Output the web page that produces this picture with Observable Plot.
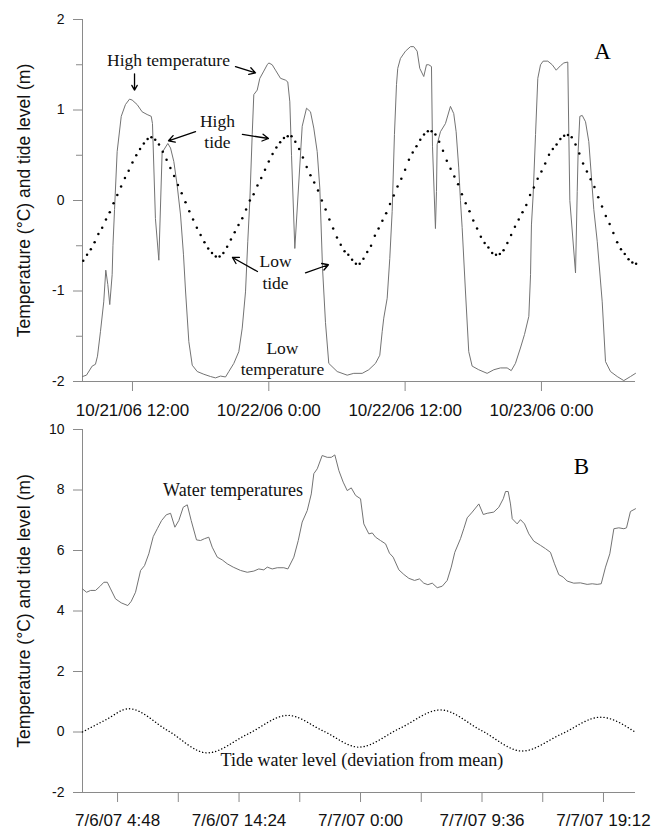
<!DOCTYPE html>
<html>
<head>
<meta charset="utf-8">
<script src="https://cdn.jsdelivr.net/npm/d3@7"></script>
<script src="https://cdn.jsdelivr.net/npm/@observablehq/plot@0.6"></script>
<style>
  html, body { margin: 0; padding: 0; background: #fff; }
  #chart svg { display: block; }
</style>
</head>
<body>
<div id="chart"></div>
<script>
// ---------- Panel A data (hours since 10/21/06 0:00) ----------
const tempA_hours = [7.60,7.95,8.45,8.74,8.92,9.18,9.47,9.65,9.83,10.00,
  10.21,10.28,10.42,10.65,11.01,11.38,11.74,11.97,12.41,12.85,
  13.29,13.65,13.76,14.02,14.32,14.61,15.11,15.35,15.64,15.93,
  16.23,16.49,16.67,16.96,17.26,17.70,18.28,18.87,19.31,19.75,
  20.19,20.48,20.92,21.36,21.66,21.95,22.15,22.33,22.54,22.68,
  22.98,23.21,23.56,23.86,24.00,24.30,24.59,25.03,25.47,25.67,
  25.85,26.00,26.29,26.94,27.32,27.67,27.96,28.26,28.49,28.73,
  28.99,29.28,30.02,30.90,31.48,32.22,32.80,33.39,33.77,33.98,
  34.12,34.42,34.65,34.86,35.06,35.24,35.35,35.59,36.03,36.47,
  36.76,37.06,37.29,37.64,37.88,38.08,38.32,38.41,38.67,38.76,
  38.82,39.11,39.55,39.99,40.28,40.49,40.72,40.87,41.02,41.31,
  41.60,41.90,42.48,43.22,43.81,44.39,44.98,45.34,45.71,46.15,
  46.51,46.89,47.04,47.12,47.27,47.48,47.68,47.92,48.15,48.56,
  48.95,49.30,49.68,49.97,50.32,50.41,50.50,51.00,51.15,51.23,
  51.38,51.59,51.88,52.17,52.47,52.61,52.91,53.35,53.64,54.08,
  54.67,55.25,55.84,56.28];
const tempA_values = [-1.945,-1.93,-1.83,-1.81,-1.72,-1.45,-1.12,-0.77,-0.93,-1.15,
  -0.82,-0.5,-0.1,0.54,0.93,1.06,1.12,1.11,1.06,0.98,
  0.95,0.93,0.85,-0.2,-0.66,0.53,0.63,0.58,0.43,0.17,
  -0.16,-0.6,-1.0,-1.56,-1.82,-1.89,-1.92,-1.945,-1.96,-1.94,
  -1.95,-1.89,-1.80,-1.67,-1.41,-1.01,-0.45,0.0,0.73,1.17,
  1.22,1.35,1.43,1.50,1.52,1.50,1.44,1.35,1.33,1.31,
  1.09,0.5,-0.53,0.82,1.02,0.98,0.80,0.54,0.14,-0.75,
  -1.35,-1.80,-1.89,-1.93,-1.91,-1.91,-1.87,-1.80,-1.71,-1.45,
  -1.30,-1.08,-0.64,-0.12,0.73,1.28,1.46,1.57,1.65,1.70,
  1.70,1.65,1.46,1.37,1.50,1.50,1.48,0.6,-0.31,0.1,
  0.62,0.76,0.85,1.04,0.96,0.76,0.36,0.0,-0.3,-1.0,
  -1.67,-1.83,-1.87,-1.91,-1.87,-1.85,-1.85,-1.88,-1.80,-1.63,
  -1.48,-1.28,-0.82,-0.27,0.06,0.73,1.35,1.50,1.54,1.54,
  1.50,1.44,1.49,1.52,1.53,0.73,0.0,-0.80,0.1,0.54,
  0.93,0.94,0.87,0.65,0.14,-0.1,-0.45,-1.12,-1.78,-1.89,
  -1.945,-1.99,-1.945,-1.91];

// tide readings every 20 minutes, starting 10/21/06 7:40
const tideA_startHour = 7 + 40/60;
const tideA_stepHours = 20/60;
const tideA_values = [-0.665,-0.60,-0.54,-0.46,-0.37,-0.30,-0.21,-0.13,-0.03,0.06,
  0.155,0.25,0.33,0.42,0.50,0.57,0.63,0.68,0.70,0.67,
  0.62,0.54,0.45,0.36,0.27,0.17,0.08,-0.02,-0.12,-0.21,
  -0.30,-0.38,-0.46,-0.53,-0.58,-0.62,-0.62,-0.58,-0.51,-0.43,
  -0.35,-0.27,-0.195,-0.10,0.00,0.07,0.165,0.25,0.34,0.43,
  0.515,0.585,0.645,0.69,0.71,0.71,0.65,0.57,0.475,0.37,
  0.28,0.20,0.11,0.00,-0.10,-0.21,-0.31,-0.41,-0.49,-0.56,
  -0.60,-0.655,-0.70,-0.70,-0.645,-0.57,-0.50,-0.39,-0.31,-0.225,
  -0.14,-0.04,0.055,0.155,0.24,0.34,0.45,0.53,0.60,0.67,
  0.73,0.765,0.765,0.73,0.65,0.55,0.44,0.35,0.265,0.18,
  0.07,-0.03,-0.12,-0.22,-0.31,-0.40,-0.47,-0.52,-0.58,-0.60,
  -0.59,-0.55,-0.47,-0.38,-0.29,-0.21,-0.13,-0.05,0.06,0.145,
  0.24,0.32,0.41,0.505,0.57,0.62,0.68,0.715,0.725,0.70,
  0.62,0.52,0.41,0.32,0.235,0.15,0.035,-0.065,-0.17,-0.26,
  -0.36,-0.46,-0.54,-0.59,-0.65,-0.685,-0.70];

const xDomainA_hours = [7.6, 56.28];
const tickA_hours = [12, 24, 36, 48];
const tickA_labels = ["10/21/06 12:00", "10/22/06 0:00", "10/22/06 12:00", "10/23/06 0:00"];
const yTicksA_major = [-2, -1, 0, 1, 2];
const yTicksA_minor = [-1.5, -0.5, 0.5, 1.5];

// annotations (panel A) in data units
const notesA = [
  {text: "High temperature", h: 15.17, v: 1.551},
  {text: "High", h: 19.48, v: 0.877},
  {text: "tide", h: 19.48, v: 0.645},
  {text: "Low", h: 24.59, v: -0.670},
  {text: "tide", h: 24.59, v: -0.913},
  {text: "Low", h: 25.20, v: -1.631},
  {text: "temperature", h: 25.20, v: -1.863}
];
const arrowsA = [
  {h1: 12.18, v1: 1.40, h2: 12.18, v2: 1.22},
  {h1: 21.07, v1: 1.48, h2: 22.83, v2: 1.41},
  {h1: 17.55, v1: 0.76, h2: 15.17, v2: 0.66},
  {h1: 21.68, v1: 0.73, h2: 23.97, v2: 0.685},
  {h1: 23.00, v1: -0.785, h2: 20.80, v2: -0.63},
  {h1: 27.23, v1: -0.80, h2: 29.25, v2: -0.71}
];
const panelLabelA = {text: "A", h: 53.37, v: 1.64};

// ---------- Panel B data (hours since 7/6/07 0:00) ----------
const tempB_hours = [2.03,2.35,2.67,3.06,3.40,3.72,3.99,4.25,4.64,5.09,
  5.61,5.88,6.22,6.62,6.93,7.27,7.62,7.94,8.28,8.65,
  8.99,9.33,9.64,9.99,10.31,10.62,11.04,11.36,11.67,12.01,
  12.28,12.68,13.07,13.47,13.94,14.52,15.05,15.57,15.96,16.36,
  16.63,17.02,17.42,17.94,18.26,18.73,19.08,19.39,19.79,20.11,
  20.31,20.58,20.97,21.37,21.69,21.97,22.29,22.63,22.95,23.27,
  23.61,24.00,24.26,24.66,24.93,25.19,25.58,25.98,26.29,26.58,
  27.03,27.42,27.82,28.27,28.66,29.00,29.32,29.67,30.06,30.46,
  30.85,31.17,31.45,31.90,32.16,32.43,32.83,33.35,33.70,34.01,
  34.53,34.93,35.28,35.46,35.67,35.85,35.99,36.38,36.64,36.96,
  37.30,37.69,38.22,38.62,39.01,39.33,39.67,40.02,40.33,40.85,
  41.38,41.91,42.31,42.70,43.02,43.36,43.70,44.02,44.41,44.81,
  45.02,45.33,45.73];
const tempB_values = [4.73,4.62,4.68,4.68,4.81,4.95,4.95,4.73,4.40,4.27,
  4.18,4.32,4.62,5.34,5.50,5.89,6.46,6.72,6.99,7.18,
  7.23,6.77,6.99,7.43,7.51,6.99,6.35,6.33,6.39,6.44,
  6.11,5.78,5.69,5.56,5.45,5.34,5.28,5.32,5.39,5.36,
  5.45,5.39,5.43,5.43,5.39,5.78,6.33,6.94,7.32,7.87,
  8.54,8.70,9.14,9.08,9.08,9.16,8.64,8.26,7.98,8.07,
  7.82,7.71,6.88,6.55,6.58,6.44,6.33,6.22,5.91,5.78,
  5.36,5.21,5.08,5.01,5.06,4.92,4.87,4.92,4.77,4.82,
  5.01,5.45,5.94,6.39,6.72,7.08,7.27,7.54,7.19,7.23,
  7.27,7.43,7.71,7.95,7.95,7.54,7.05,6.88,7.02,6.88,
  6.55,6.31,6.17,6.06,5.94,5.56,5.20,5.12,4.99,4.92,
  4.93,4.88,4.90,4.88,4.90,5.45,5.89,6.72,6.75,6.72,
  6.75,7.29,7.38];
const tideB_hours = [2.03,3.86,5.69,8.79,11.89,15.08,18.26,21.07,23.87,27.10,30.32,33.55,36.78,39.87,42.96,45.73];
const tideB_values = [0.0,0.40,0.77,0.04,-0.69,-0.07,0.55,0.03,-0.50,0.12,0.73,0.05,-0.63,-0.07,0.49,-0.01];

const xDomainB_hours = [2.03, 45.73];
const tickB_hours = [4.8, 9.6, 14.4, 19.2, 24, 28.8, 33.6, 38.4, 43.2];
const tickB_labels = ["7/6/07 4:48", "", "7/6/07 14:24", "", "7/7/07 0:00", "", "7/7/07 9:36", "", "7/7/07 19:12"];
const yTicksB = [-2, 0, 2, 4, 6, 8, 10];
const noteB_water = {text: "Water temperatures", h: 13.93, v: 8.0};
const noteB_tide = {text: "Tide water level (deviation from mean)", h: 12.94, v: -0.93};
const panelLabelB = {text: "B", h: 41.46, v: 8.78};

const yTitle = "Temperature (°C) and tide level (m)";

// ---------- helpers ----------
const baseA = Date.UTC(2006, 9, 21);
const baseB = Date.UTC(2007, 6, 6);
const atA = h => new Date(baseA + h * 3600000);
const atB = h => new Date(baseB + h * 3600000);

const tempA = tempA_hours.map((h, i) => ({t: atA(h), v: tempA_values[i]}));
const tideA = tideA_values.map((v, i) => ({t: atA(tideA_startHour + i * tideA_stepHours), v}));
const tempB = tempB_hours.map((h, i) => ({t: atB(h), v: tempB_values[i]}));
const tideB = tideB_hours.map((h, i) => ({t: atB(h), v: tideB_values[i]}));

const axisColor = "#8a8a8a";
const sans = "Liberation Sans, Arial, sans-serif";
const serif = "Liberation Serif, Times New Roman, serif";

const chartA = Plot.plot({
  width: 657, height: 418,
  marginLeft: 82, marginRight: 22, marginTop: 19, marginBottom: 37,
  style: {fontFamily: sans, background: "#fff", overflow: "visible"},
  x: {type: "utc", domain: xDomainA_hours.map(atA)},
  y: {domain: [-2, 2]},
  marks: [
    Plot.ruleX([atA(xDomainA_hours[0])], {stroke: axisColor, strokeWidth: 1}),
    Plot.ruleY([-2], {stroke: axisColor, strokeWidth: 1}),
    Plot.axisY(yTicksA_major, {tickSize: 9, tickPadding: 9, fontSize: 14, stroke: axisColor, fill: "#111", tickFormat: d => String(d), label: null}),
    Plot.axisY(yTicksA_minor, {tickSize: 6, tickPadding: 9, stroke: axisColor, tickFormat: () => "", label: null}),
    Plot.axisX(tickA_hours.map(atA), {tickSize: 10, tickPadding: 12, fontSize: 17, stroke: axisColor, fill: "#111", tickFormat: (d, i) => tickA_labels[i], label: null}),
    Plot.text([yTitle], {frameAnchor: "left", textAnchor: "middle", rotate: -90, dx: -58, fontSize: 17.5, fill: "#111"}),
    Plot.line(tempA, {x: "t", y: "v", stroke: "#737373", strokeWidth: 1}),
    Plot.dot(tideA, {x: "t", y: "v", r: 1.25, fill: "#000"}),
    Plot.arrow(arrowsA, {x1: d => atA(d.h1), y1: "v1", x2: d => atA(d.h2), y2: "v2", stroke: "#000", strokeWidth: 1.3, headLength: 8}),
    Plot.text(notesA, {x: d => atA(d.h), y: "v", text: "text", fontFamily: serif, fontSize: 17.5, fill: "#111"}),
    Plot.text([panelLabelA], {x: d => atA(d.h), y: "v", text: "text", fontFamily: serif, fontSize: 23, fill: "#000"})
  ]
});

const chartB = Plot.plot({
  width: 657, height: 410,
  marginLeft: 82, marginRight: 22, marginTop: 11, marginBottom: 36,
  style: {fontFamily: sans, background: "#fff", overflow: "visible"},
  x: {type: "utc", domain: xDomainB_hours.map(atB)},
  y: {domain: [-2, 10]},
  marks: [
    Plot.ruleX([atB(xDomainB_hours[0])], {stroke: axisColor, strokeWidth: 1}),
    Plot.ruleY([-2], {stroke: axisColor, strokeWidth: 1}),
    Plot.axisY(yTicksB, {tickSize: 9, tickPadding: 9, fontSize: 14, stroke: axisColor, fill: "#111", tickFormat: d => String(d), label: null}),
    Plot.axisX(tickB_hours.map(atB), {tickSize: 10, tickPadding: 11, fontSize: 17, stroke: axisColor, fill: "#111", tickFormat: (d, i) => tickB_labels[i], label: null}),
    Plot.text([yTitle], {frameAnchor: "left", textAnchor: "middle", rotate: -90, dx: -58, fontSize: 17.5, fill: "#111"}),
    Plot.line(tempB, {x: "t", y: "v", stroke: "#737373", strokeWidth: 1}),
    Plot.line(tideB, {x: "t", y: "v", curve: "monotone-x", stroke: "#000", strokeWidth: 1.4, strokeDasharray: "0.1,3.2", strokeLinecap: "round"}),
    Plot.text([noteB_water], {x: d => atB(d.h), y: "v", text: "text", textAnchor: "middle", fontFamily: serif, fontSize: 18, fill: "#111"}),
    Plot.text([noteB_tide], {x: d => atB(d.h), y: "v", text: "text", textAnchor: "start", fontFamily: serif, fontSize: 18, fill: "#111"}),
    Plot.text([panelLabelB], {x: d => atB(d.h), y: "v", text: "text", fontFamily: serif, fontSize: 23, fill: "#000"})
  ]
});

const root = document.getElementById("chart");
root.appendChild(chartA);
root.appendChild(chartB);
</script>
</body>
</html>
